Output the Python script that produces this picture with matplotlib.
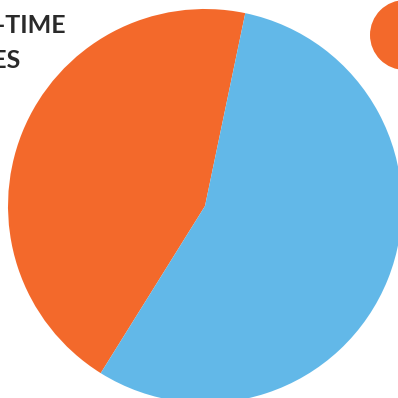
import matplotlib
matplotlib.use('Agg')
import matplotlib.pyplot as plt
from matplotlib.patches import Circle

# Datos del gráfico
labels = ['Part-time', 'Full-time']
values = [44.4, 55.6]
colors = ['#F3692B', '#62B8E8']
title_lines = ['PART-TIME', 'EMPLOYEES']

W = H = 398
cx, cy, r = 205, 206, 197  # centro y radio en píxeles (desde arriba)

fig = plt.figure(figsize=(W / 100, H / 100), dpi=100)
ax = fig.add_axes([0, 0, 1, 1])
ax.pie(values, colors=colors, startangle=78.2, counterclock=True,
       radius=1, wedgeprops=dict(linewidth=0))

# Ejes en unidades de radio para ubicar el pastel
ax.set_xlim(-cx / r, (W - cx) / r)
ax.set_ylim(-(H - cy) / r, cy / r)
ax.set_aspect('equal')
ax.axis('off')

# Marcador de leyenda (círculo naranja recortado arriba a la derecha)
ax.add_patch(Circle(((405 - cx) / r, (cy - 35) / r), 35 / r,
                    color=colors[0], clip_on=False, lw=0))

# Título recortado a la izquierda
fig.text(66 / W, 1 - 33 / H, title_lines[0], ha='right', va='baseline',
         fontsize=18, fontweight='bold', color='#2a2a2a', family='Lato')
fig.text(20 / W, 1 - 68 / H, title_lines[1], ha='right', va='baseline',
         fontsize=18, fontweight='bold', color='#2a2a2a', family='Lato')

fig.savefig('out.png', dpi=100, facecolor='white')
